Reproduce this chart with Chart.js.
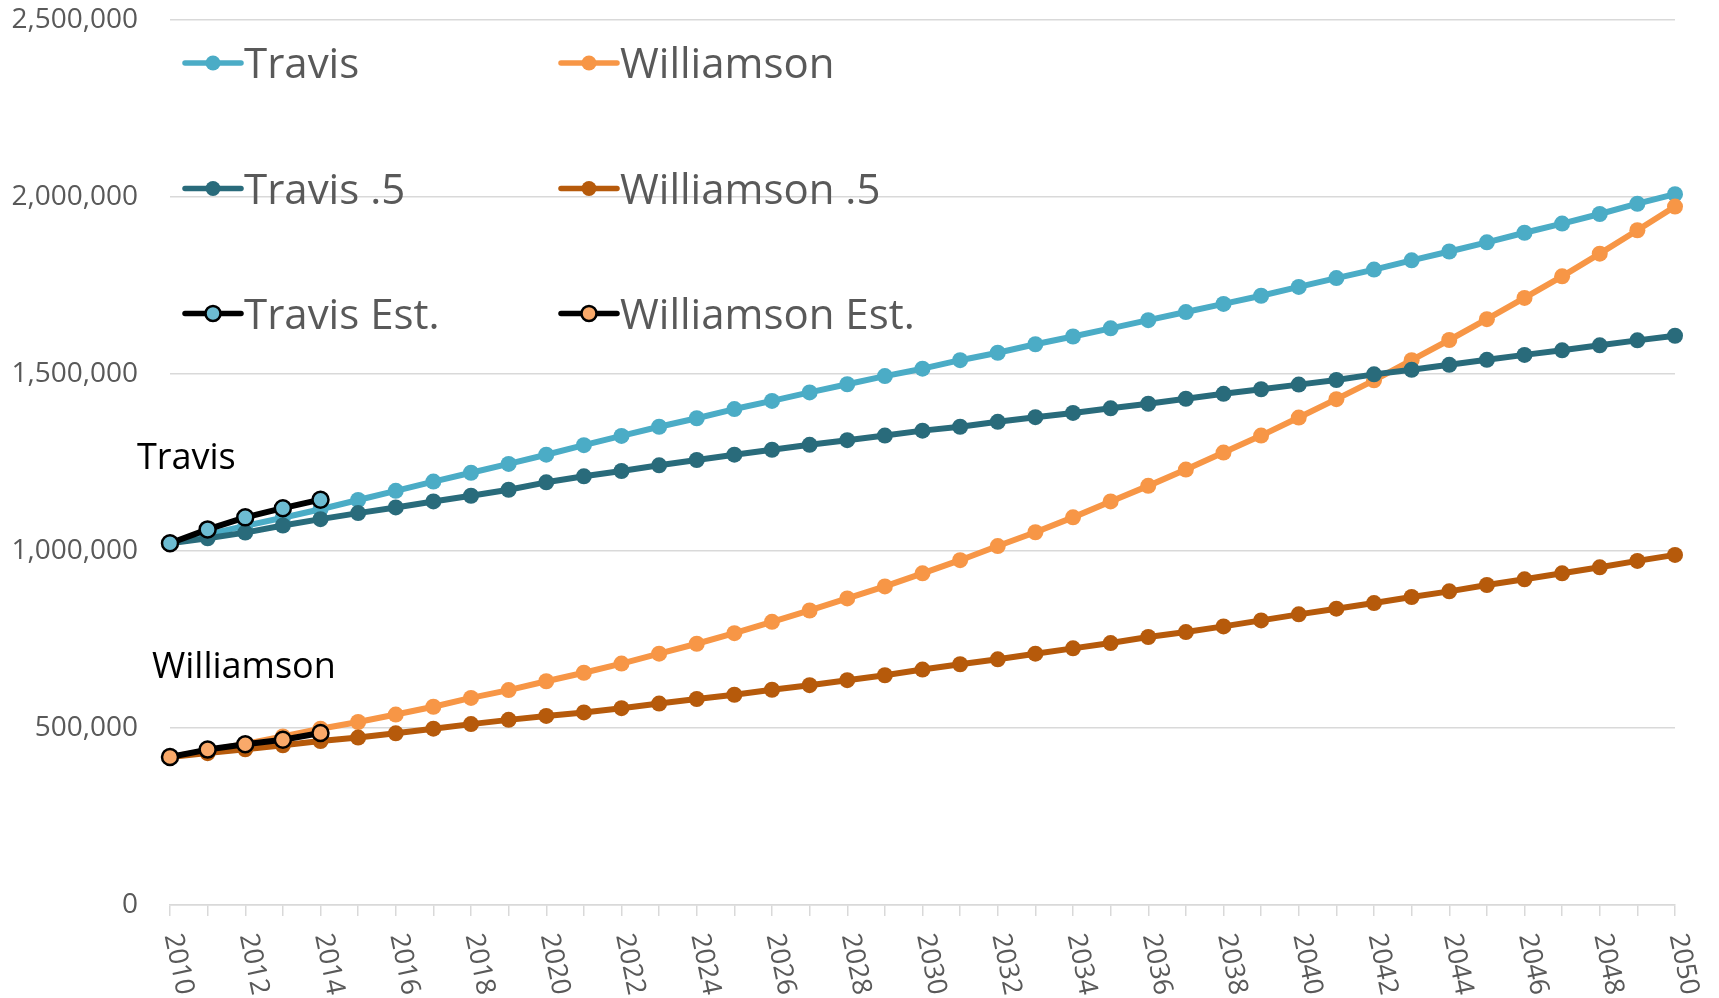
<!DOCTYPE html>
<html>
<head>
<meta charset="utf-8">
<script src="https://cdn.jsdelivr.net/npm/chart.js@4.4.1/dist/chart.umd.min.js"></script>
<style>
  html, body { margin: 0; padding: 0; background: #fff; }
  #wrap { width: 1719px; height: 998px; }
</style>
</head>
<body>
<div id="wrap"><canvas id="chart" width="1719" height="998"></canvas></div>
<script>
// years on the x axis, labels shown every second year
const years = [2010, 2011, 2012, 2013, 2014, 2015, 2016, 2017, 2018, 2019,
               2020, 2021, 2022, 2023, 2024, 2025, 2026, 2027, 2028, 2029,
               2030, 2031, 2032, 2033, 2034, 2035, 2036, 2037, 2038, 2039,
               2040, 2041, 2042, 2043, 2044, 2045, 2046, 2047, 2048, 2049, 2050];
const xTickLabels = ['2010', '2012', '2014', '2016', '2018', '2020', '2022', '2024', '2026', '2028',
                     '2030', '2032', '2034', '2036', '2038', '2040', '2042', '2044', '2046', '2048', '2050'];
const yTicks = [0, 500000, 1000000, 1500000, 2000000, 2500000];

const travis = [1022000, 1047000, 1071000, 1094000, 1118000, 1144000, 1170000, 1196000, 1221000, 1246000,
                1272000, 1299000, 1325000, 1351000, 1375000, 1401000, 1424000, 1448000, 1471000, 1494000,
                1515000, 1539000, 1560000, 1584000, 1606000, 1629000, 1652000, 1675000, 1698000, 1721000,
                1746000, 1771000, 1795000, 1821000, 1846000, 1872000, 1899000, 1925000, 1952000, 1981000, 2008000];
const williamson = [418000, 436000, 455000, 476000, 498000, 517000, 538000, 560000, 585000, 607000,
                    632000, 656000, 682000, 710000, 738000, 768000, 800000, 832000, 866000, 900000,
                    937000, 974000, 1014000, 1053000, 1095000, 1140000, 1184000, 1230000, 1278000, 1326000,
                    1377000, 1429000, 1482000, 1539000, 1596000, 1655000, 1715000, 1776000, 1840000, 1906000, 1973000];
const travisHalf = [1022000, 1036000, 1052000, 1072000, 1090000, 1107000, 1123000, 1140000, 1156000, 1173000,
                    1194000, 1211000, 1226000, 1242000, 1257000, 1272000, 1286000, 1300000, 1313000, 1326000,
                    1340000, 1351000, 1365000, 1378000, 1390000, 1403000, 1416000, 1430000, 1444000, 1457000,
                    1470000, 1483000, 1499000, 1512000, 1526000, 1540000, 1554000, 1567000, 1581000, 1595000, 1608000];
const williamsonHalf = [418000, 429000, 440000, 451000, 463000, 473000, 485000, 498000, 511000, 523000,
                        534000, 544000, 556000, 569000, 582000, 594000, 608000, 621000, 635000, 649000,
                        665000, 680000, 694000, 710000, 725000, 740000, 757000, 771000, 787000, 804000,
                        821000, 837000, 853000, 870000, 886000, 904000, 920000, 937000, 954000, 972000, 989000];
const travisEst = [1022000, 1061000, 1095000, 1121000, 1145000];
const williamsonEst = [418000, 439000, 454000, 467000, 486000];

const FONT = '"Open Sans", "Noto Sans", sans-serif';
const GREY = '#595959';
const GRID = '#d9d9d9';

const C_TRAVIS = '#4BACC6', C_TRAVIS_H = '#296B7B', C_WILL = '#F79646', C_WILL_H = '#B65A0B';
const C_TRAVIS_EST = '#6DBCD2', C_WILL_EST = '#F9A96A';

const solid = (label, data, color, order) => ({
  label, data, order,
  borderColor: color, backgroundColor: color,
  pointBackgroundColor: color, pointBorderColor: color,
  borderWidth: 6, pointRadius: 8, pointBorderWidth: 0,
  borderJoinStyle: 'round', borderCapStyle: 'round', tension: 0,
});
const est = (label, data, fill, order) => ({
  label, data, order,
  borderColor: '#000', backgroundColor: fill,
  pointBackgroundColor: fill, pointBorderColor: '#000',
  borderWidth: 6, pointRadius: 8, pointBorderWidth: 2.5,
  borderJoinStyle: 'round', borderCapStyle: 'round', tension: 0,
});

const datasets = [
  solid('Travis', travis, C_TRAVIS, 6),
  solid('Williamson', williamson, C_WILL, 5),
  solid('Travis .5', travisHalf, C_TRAVIS_H, 4),
  solid('Williamson .5', williamsonHalf, C_WILL_H, 3),
  est('Travis Est.', travisEst, C_TRAVIS_EST, 2),
  est('Williamson Est.', williamsonEst, C_WILL_EST, 1),
];

// rotated year labels, legend grid and the two text notes
const overlay = {
  id: 'overlay',
  afterDraw(chart) {
    const ctx = chart.ctx;
    const xs = chart.scales.x;
    ctx.save();

    ctx.font = `27px ${FONT}`;
    ctx.fillStyle = GREY;
    ctx.textAlign = 'left';
    ctx.textBaseline = 'middle';
    xTickLabels.forEach(lbl => {
      const px = xs.getPixelForValue(years.indexOf(Number(lbl)));
      ctx.save();
      ctx.translate(px + 2, 934);
      ctx.rotate(78 * Math.PI / 180);
      ctx.fillText(lbl, 0, 0);
      ctx.restore();
    });

    const cols = [185, 561], rows = [63, 188.5, 313.5];
    datasets.forEach((ds, i) => {
      const x = cols[i % 2], y = rows[Math.floor(i / 2)];
      ctx.beginPath();
      ctx.lineCap = 'round';
      ctx.lineWidth = 5.5;
      ctx.strokeStyle = ds.borderColor;
      ctx.moveTo(x, y); ctx.lineTo(x + 56, y);
      ctx.stroke();
      ctx.beginPath();
      ctx.arc(x + 28, y, 7.5, 0, Math.PI * 2);
      ctx.fillStyle = ds.pointBackgroundColor;
      ctx.fill();
      if (ds.pointBorderWidth) { ctx.lineWidth = 2.5; ctx.strokeStyle = '#000'; ctx.stroke(); }
      ctx.font = `42px ${FONT}`;
      ctx.fillStyle = GREY;
      ctx.textBaseline = 'alphabetic';
      ctx.fillText(ds.label, x + 59, y + 15);
    });

    ctx.font = `36px ${FONT}`;
    ctx.fillStyle = '#000';
    ctx.textBaseline = 'alphabetic';
    ctx.fillText('Travis', 137, 469);
    ctx.fillText('Williamson', 152, 678);
    ctx.restore();
  }
};

new Chart(document.getElementById('chart'), {
  type: 'line',
  data: { labels: years, datasets },
  options: {
    responsive: false,
    animation: false,
    devicePixelRatio: 1,
    layout: { padding: { top: 20, right: 44, left: 0, bottom: 0 } },
    plugins: { legend: { display: false }, tooltip: { enabled: false } },
    scales: {
      x: {
        type: 'category',
        offset: false,
        grid: { drawOnChartArea: false, drawTicks: true, tickLength: 11, color: GRID, lineWidth: 1.5 },
        border: { display: true, color: GRID, width: 1.5 },
        ticks: { display: false, autoSkip: false },
        afterFit: s => { s.height = 93; s.paddingLeft = 0; s.paddingRight = 0; },
      },
      y: {
        min: 0, max: 2500000,
        afterBuildTicks: s => { s.ticks = yTicks.map(v => ({ value: v })); },
        grid: { color: GRID, lineWidth: 1.5, drawTicks: false },
        border: { display: false },
        ticks: { color: GREY, font: { family: FONT, size: 28 }, padding: 32,
                 callback: v => v.toLocaleString('en-US') },
        afterFit: s => { s.width = 170; s.paddingTop = 0; s.paddingBottom = 0; },
      },
    },
  },
  plugins: [overlay],
});
</script>
</body>
</html>
